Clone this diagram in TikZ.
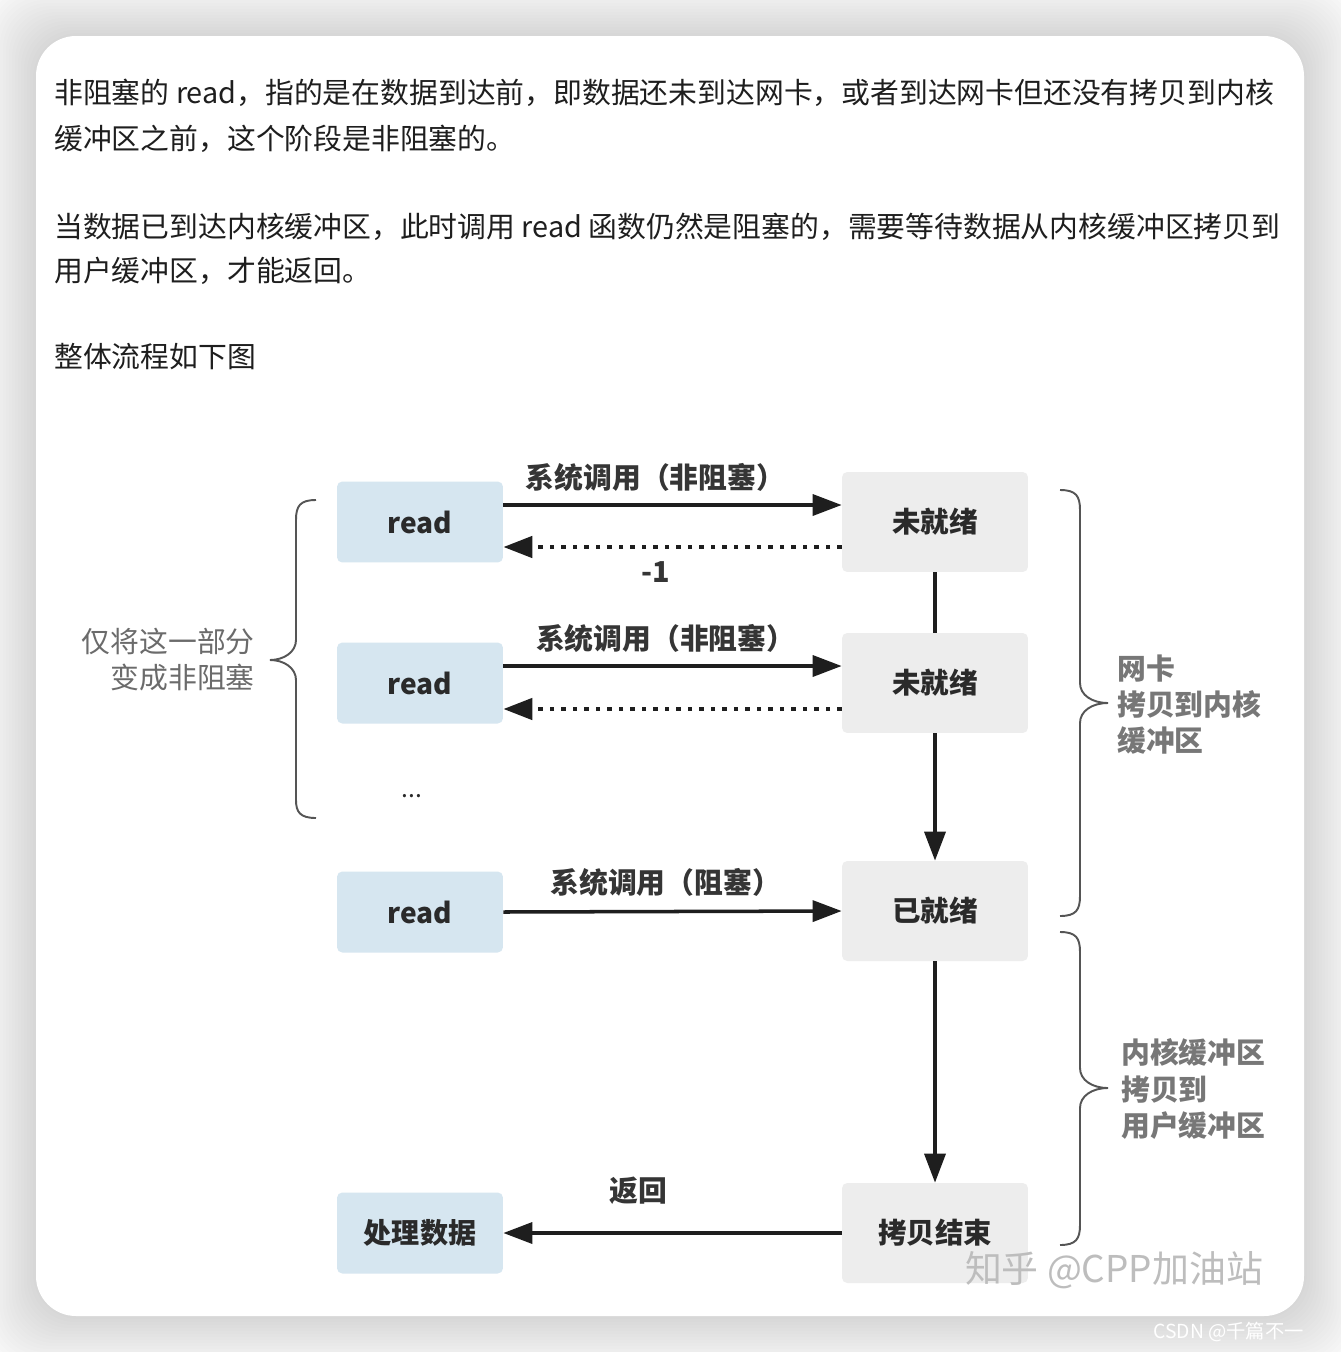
\documentclass[tikz,border=0pt]{standalone}
\usepackage{fontspec}
\setmainfont{Noto Sans CJK SC}
\usepackage{tikz}
\usetikzlibrary{arrows.meta, positioning}
\usepackage{xcolor}
\definecolor{inkdark}{HTML}{1E1E1E}
\definecolor{boxtext}{HTML}{2A2A2A}
\definecolor{readblue}{HTML}{D6E6F0}
\definecolor{stategray}{HTML}{EDEDED}
\definecolor{bracegray}{HTML}{555555}
\definecolor{notegray}{HTML}{777777}
\definecolor{markgray}{HTML}{BDBDBD}

\begin{document}
\begin{tikzpicture}[
    x=0.02cm, y=-0.02cm,
    every node/.style={inner sep=0pt},
    para/.style={anchor=west, text=inkdark, font=\fontsize{16.4}{20}\selectfont},
    readbox/.style={fill=readblue, rounded corners=3pt, minimum width=3.32cm, minimum height=1.62cm, text=boxtext, font=\fontsize{16}{19}\selectfont\bfseries},
    statebox/.style={fill=stategray, rounded corners=3pt, minimum width=3.72cm, minimum height=2cm, text=boxtext, font=\fontsize{16.2}{19}\selectfont\bfseries},
    call/.style={-{Triangle[length=0.58cm, width=0.42cm]}, line width=2pt, draw=inkdark},
    back/.style={call, line width=2.6pt, dash pattern=on 0.09cm off 0.14cm},
    lbl/.style={text=inkdark!90, font=\fontsize{16.4}{19}\selectfont\bfseries},
    curly/.style={draw=bracegray, line width=1.1pt},
    note/.style={align=left, anchor=west, text=notegray, font=\fontsize{16.4}{20.5}\selectfont\bfseries}
]
    \useasboundingbox (0,0) rectangle (1340,1352);
    % page, shadow and card
    \fill[white] (0,0) rectangle (1340,1352);
    \foreach \i in {1,...,20}
        \fill[black, opacity=0.008, rounded corners=0.9cm] (36-3*\i,36-3*\i) rectangle (1304+3*\i,1316+3*\i);
    \fill[white, rounded corners=0.8cm] (36,36) rectangle (1304,1316);

    % text above the diagram
    \node[para] (p1) at (54,93) {非阻塞的 read，指的是在数据到达前，即数据还未到达网卡，或者到达网卡但还没有拷贝到内核};
    \node[para] (p2) at (54,139) {缓冲区之前，这个阶段是非阻塞的。};
    \node[para] (p3) at (54,227) {当数据已到达内核缓冲区，此时调用 read 函数仍然是阻塞的，需要等待数据从内核缓冲区拷贝到};
    \node[para] (p4) at (54,271) {用户缓冲区，才能返回。};
    \node[para] (p5) at (54,357) {整体流程如下图};

    % user side
    \node[readbox] (r1) at (420,522) {read};
    \node[readbox] (r2) at (420,683) {read};
    \node[text=boxtext, font=\fontsize{14}{16}\selectfont] (dots) at (412,796) {...};
    \node[readbox] (r3) at (420,912) {read};
    \node[readbox] (r4) at (420,1233) {处理数据};

    % kernel side
    \node[statebox] (s1) at (935,522) {未就绪};
    \node[statebox] (s2) at (935,683) {未就绪};
    \node[statebox] (s3) at (935,911) {已就绪};
    \node[statebox] (s4) at (935,1233) {拷贝结束};

    \draw[call] ([yshift=0.34cm]r1.east) -- ([yshift=0.34cm]s1.west)
        node[lbl, pos=0.45, yshift=0.56cm] (c1) {系统调用（非阻塞）};
    \draw[back] ([yshift=-0.5cm]s1.west) -- ([yshift=-0.5cm]r1.east)
        node[lbl, pos=0.55, yshift=-0.5cm] (m1) {-1};
    \draw[call] ([yshift=0.34cm]r2.east) -- ([yshift=0.34cm]s2.west)
        node[lbl, pos=0.48, yshift=0.56cm] (c2) {系统调用（非阻塞）};
    \draw[back] ([yshift=-0.52cm]s2.west) -- ([yshift=-0.52cm]r2.east);
    \draw[call] (r3.east) -- (s3.west)
        node[lbl, pos=0.48, yshift=0.58cm] (c3) {系统调用（阻塞）};
    \draw[call] (s4.west) -- (r4.east)
        node[lbl, pos=0.6, yshift=0.84cm] (ret) {返回};

    \draw[line width=2pt, draw=inkdark] (s1.south) -- (s2.north);
    \draw[call] (s2.south) -- (s3.north);
    \draw[call] (s3.south) -- (s4.north);

    % braces
    \draw[curly] (316,500) .. controls (300,500) and (296,506) .. (296,520) -- (296,640)
        .. controls (296,652) and (284,660) .. (270,660) .. controls (284,660) and (296,668) .. (296,680)
        -- (296,800) .. controls (296,812) and (300,818) .. (316,818);
    \node[align=right, anchor=east, text=notegray!90!black, font=\fontsize{16.4}{20.5}\selectfont] (only) at (255,660) {仅将这一部分\\变成非阻塞};

    \draw[curly] (1060,490) .. controls (1076,490) and (1080,496) .. (1080,510) -- (1080,683)
        .. controls (1080,695) and (1092,703) .. (1108,703) .. controls (1092,703) and (1080,711) .. (1080,723)
        -- (1080,896) .. controls (1080,910) and (1076,916) .. (1060,916);
    \node[note] (nic) at (1117,705) {网卡\\拷贝到内核\\缓冲区};

    \draw[curly] (1060,932) .. controls (1076,932) and (1080,938) .. (1080,952) -- (1080,1068)
        .. controls (1080,1080) and (1092,1088) .. (1108,1088) .. controls (1092,1088) and (1080,1096) .. (1080,1108)
        -- (1080,1225) .. controls (1080,1239) and (1076,1245) .. (1060,1245);
    \node[note] (kern) at (1121,1089) {内核缓冲区\\拷贝到\\用户缓冲区};

    % watermarks
    \node[text=markgray, font=\fontsize{21}{24}\selectfont] (zh) at (1114,1270) {知乎 @CPP加油站};
    \node[anchor=west, text=white, font=\fontsize{11}{13}\selectfont] (cs) at (1153,1332) {CSDN @千篇不一};
\end{tikzpicture}
\end{document}
